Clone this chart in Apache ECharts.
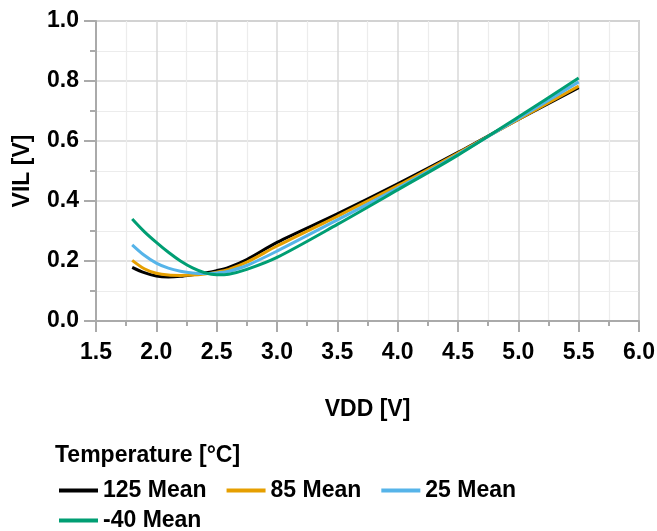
<!DOCTYPE html>
<html>
<head>
<meta charset="utf-8">
<script src="https://cdn.jsdelivr.net/npm/echarts@6/dist/echarts.min.js"></script>
<style>
  html, body { margin: 0; padding: 0; background: #fff; }
  #chart { width: 657px; height: 531px; }
</style>
</head>
<body>
<div id="chart"></div>
<script>
// VDD sweep points (V)
const vdd = [1.8, 1.9, 2.0, 2.1, 2.2, 2.3, 2.4, 2.5, 2.6, 2.75, 3.0, 3.5, 4.0, 4.5, 5.0, 5.5];

// VIL mean values per temperature (V)
const vil125 = [0.179, 0.161, 0.150, 0.147, 0.149, 0.154, 0.160, 0.168, 0.179, 0.205, 0.262, 0.357, 0.457, 0.562, 0.672, 0.778];
const vil85 = [0.202, 0.174, 0.159, 0.153, 0.152, 0.153, 0.157, 0.163, 0.172, 0.196, 0.250, 0.349, 0.451, 0.560, 0.672, 0.783];
const vil25 = [0.254, 0.219, 0.193, 0.176, 0.166, 0.160, 0.158, 0.160, 0.166, 0.185, 0.233, 0.337, 0.443, 0.556, 0.675, 0.797];
const vilM40 = [0.340, 0.298, 0.262, 0.229, 0.200, 0.177, 0.161, 0.154, 0.156, 0.172, 0.212, 0.322, 0.437, 0.553, 0.680, 0.810];

const seriesNames = ['125 Mean', '85 Mean', '25 Mean', '-40 Mean'];
const seriesColors = ['#000000', '#E69F00', '#56B4E9', '#009E73'];
const seriesValues = [vil125, vil85, vil25, vilM40];

const font = 'Liberation Sans, Arial, sans-serif';
const chart = echarts.init(document.getElementById('chart'), null, {renderer: 'canvas'});

const pairs = (ys) => vdd.map((x, i) => [x, ys[i]]);

const option = {
  animation: false,
  backgroundColor: '#ffffff',
  title: {
    text: 'Temperature [°C]',
    left: 50,
    top: 439,
    textStyle: {fontFamily: font, fontWeight: 'bold', fontSize: 23, color: '#000'}
  },
  legend: [
    {
      data: seriesNames.slice(0, 3),
      left: 54,
      top: 474,
      icon: 'rect',
      itemWidth: 39,
      itemHeight: 4,
      itemGap: 20,
      textStyle: {fontFamily: font, fontWeight: 'bold', fontSize: 23, color: '#000', width: 117}
    },
    {
      data: seriesNames.slice(3),
      left: 54,
      top: 504,
      icon: 'rect',
      itemWidth: 39,
      itemHeight: 4,
      textStyle: {fontFamily: font, fontWeight: 'bold', fontSize: 23, color: '#000'}
    }
  ],
  grid: {
    left: 96,
    right: 18,
    top: 21,
    bottom: 210,
    show: true,
    borderColor: '#aaaaaa',
    borderWidth: 1.5,
    containLabel: false,
    outerBoundsMode: 'none'
  },
  xAxis: {
    type: 'value',
    min: 1.5,
    max: 6.0,
    interval: 0.5,
    name: 'VDD [V]',
    nameLocation: 'middle',
    nameGap: 77,
    nameTextStyle: {fontFamily: font, fontWeight: 'bold', fontSize: 23, color: '#000'},
    axisLine: {show: true, lineStyle: {color: '#aaaaaa', width: 2}},
    axisTick: {show: true, length: 11, lineStyle: {color: '#aaaaaa', width: 2}},
    minorTick: {show: true, splitNumber: 2, length: 5, lineStyle: {color: '#aaaaaa', width: 2}},
    splitLine: {show: true, lineStyle: {color: '#d9d9d9', width: 1.5}},
    minorSplitLine: {show: true, lineStyle: {color: '#ececec', width: 1.2}},
    axisLabel: {
      margin: 20,
      showMinLabel: true,
      showMaxLabel: true,
      hideOverlap: false,
      fontFamily: font, fontWeight: 'bold', fontSize: 23, color: '#000',
      formatter: (v) => v.toFixed(1)
    }
  },
  yAxis: {
    type: 'value',
    min: 0,
    max: 1.0,
    interval: 0.2,
    name: 'VIL [V]',
    nameLocation: 'middle',
    nameGap: 62,
    nameTextStyle: {fontFamily: font, fontWeight: 'bold', fontSize: 23, color: '#000'},
    axisLine: {show: true, lineStyle: {color: '#aaaaaa', width: 2}},
    axisTick: {show: true, length: 12, lineStyle: {color: '#aaaaaa', width: 2}},
    minorTick: {show: true, splitNumber: 2, length: 6, lineStyle: {color: '#aaaaaa', width: 2}},
    splitLine: {show: true, lineStyle: {color: '#d9d9d9', width: 1.5}},
    minorSplitLine: {show: true, lineStyle: {color: '#ececec', width: 1.2}},
    axisLabel: {
      margin: 17,
      showMinLabel: true,
      showMaxLabel: true,
      fontFamily: font, fontWeight: 'bold', fontSize: 23, color: '#000',
      formatter: (v) => v.toFixed(1)
    }
  },
  series: seriesNames.map((name, i) => ({
    name: name,
    type: 'line',
    data: pairs(seriesValues[i]),
    smooth: 0.3,
    showSymbol: false,
    color: seriesColors[i],
    lineStyle: {width: 3, color: seriesColors[i]},
    z: 2 + i
  }))
};

chart.setOption(option);
</script>
</body>
</html>
